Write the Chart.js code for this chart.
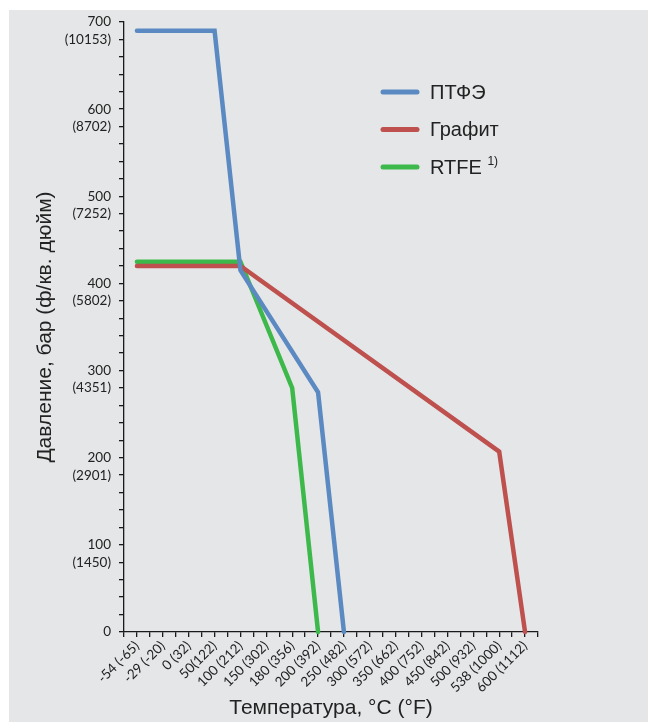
<!DOCTYPE html>
<html>
<head>
<meta charset="utf-8">
<style>
  html, body { margin: 0; padding: 0; background: #fff; }
  #wrap { width: 648px; height: 722px; }
</style>
<script src="https://cdn.jsdelivr.net/npm/chart.js@4.4.1/dist/chart.umd.min.js"></script>
</head>
<body>
<div id="wrap"><canvas id="chart" width="648" height="722"></canvas></div>
<script>
// temperature categories, °C (°F)
const categories = ['-54 (-65)', '-29 (-20)', '0 (32)', '50(122)', '100 (212)', '150 (302)', '180 (356)', '200 (392)',
  '250 (482)', '300 (572)', '350 (662)', '400 (752)', '450 (842)', '500 (932)', '538 (1000)', '600 (1112)'];

// pressure, bar (null = no point at that temperature)
const ptfe = [690, 690, 690, 690, 415, null, null, 275, 0, null, null, null, null, null, null, null];
const graphite = [420, 420, 420, 420, 420, null, null, null, null, null, null, null, null, null, 207, 0];
const rtfe = [425, 425, 425, 425, 425, null, 280, 0, null, null, null, null, null, null, null, null];

const seriesNames = ['ПТФЭ', 'Графит', 'RTFE'];
const seriesNotes = ['', '', '1)'];
const seriesColors = ['#5b89c2', '#be504e', '#3db94b'];

// y tick labels: bar and psi in brackets
const yTicksBar = [0, 100, 200, 300, 400, 500, 600, 700];
const yTicksPsi = ['', '1450', '2901', '4351', '5802', '7252', '8702', '10153'];

const toPoints = (arr) => arr.map((v, i) => ({ x: i, y: v })).filter((p) => p.y !== null);

const background = {
  id: 'background',
  beforeDraw(chart) {
    const { ctx, width, height } = chart;
    ctx.save();
    ctx.fillStyle = '#ffffff';
    ctx.fillRect(0, 0, width, height);
    ctx.fillStyle = '#e5e6e8';
    ctx.fillRect(9, 10, width - 9, height - 10);
    ctx.restore();
  }
};

const legendBox = {
  id: 'legendBox',
  afterDraw(chart) {
    const { ctx } = chart;
    ctx.save();
    chart.data.datasets.forEach((ds, i) => {
      const y = 92 + i * 37.5;
      ctx.strokeStyle = ds.borderColor;
      ctx.lineWidth = 5;
      ctx.lineCap = 'round';
      ctx.beginPath();
      ctx.moveTo(383, y);
      ctx.lineTo(417, y);
      ctx.stroke();
      ctx.fillStyle = '#222';
      ctx.font = '20px "Liberation Sans", Arial, sans-serif';
      ctx.textBaseline = 'middle';
      ctx.fillText(ds.label, 430, y + 1);
      if (seriesNotes[i]) {
        const w = ctx.measureText(ds.label + ' ').width;
        ctx.font = '12px "Liberation Sans", Arial, sans-serif';
        ctx.fillText(seriesNotes[i], 430 + w, y - 5);
      }
    });
    ctx.restore();
  }
};

new Chart(document.getElementById('chart'), {
  type: 'line',
  data: {
    datasets: [ptfe, graphite, rtfe].map((arr, i) => ({
      label: seriesNames[i],
      data: toPoints(arr),
      borderColor: seriesColors[i],
      backgroundColor: seriesColors[i],
      borderWidth: 4.5,
      borderCapStyle: 'round',
      pointRadius: 0,
      tension: 0,
      clip: false
    }))
  },
  options: {
    responsive: false,
    animation: false,
    devicePixelRatio: 1,
    layout: { padding: { top: 22, right: 110, bottom: 0, left: 0 } },
    plugins: { legend: { display: false }, tooltip: { enabled: false } },
    scales: {
      x: {
        type: 'linear',
        min: -0.5,
        max: categories.length - 0.5,
        afterFit: (scale) => { scale.height = 90; },
        afterBuildTicks: (scale) => {
          const t = [];
          for (let k = 0; k <= categories.length * 2; k++) t.push({ value: -0.5 + k / 2 });
          scale.ticks = t;
        },
        border: { display: true, color: '#1a1a1a', width: 1.3 },
        grid: { drawOnChartArea: false, drawTicks: true, tickLength: 5, color: '#1a1a1a', lineWidth: 1.3 },
        ticks: {
          autoSkip: false,
          maxRotation: 45,
          minRotation: 45,
          padding: 1,
          color: '#222',
          font: { family: 'Lato', size: 13.5 },
          callback: (v) => (Number.isInteger(v) ? categories[v] : '')
        },
        title: {
          display: true,
          text: 'Температура, °C (°F)',
          color: '#222',
          font: { family: '"Liberation Sans", Arial, sans-serif', size: 21 },
          padding: { top: 0, bottom: 1 }
        }
      },
      y: {
        min: 0,
        max: 700,
        afterFit: (scale) => { scale.width = 124; },
        border: { display: true, color: '#1a1a1a', width: 1.3 },
        grid: { drawOnChartArea: false, drawTicks: true, tickLength: 5, color: '#1a1a1a', lineWidth: 1.3 },
        ticks: {
          stepSize: 20,
          autoSkip: false,
          padding: 8,
          color: '#222',
          font: { family: 'Lato', size: 13.5 },
          callback: (v) => {
            const i = yTicksBar.indexOf(v);
            if (i >= 0) return String(v);
            const j = yTicksBar.indexOf(v + 20);
            if (j > 0) return '(' + yTicksPsi[j] + ')';
            return '';
          }
        },
        title: {
          display: true,
          text: 'Давление, бар (ф/кв. дюйм)',
          color: '#222',
          font: { family: '"Liberation Sans", Arial, sans-serif', size: 21 },
          padding: { top: 33, bottom: 0 }
        }
      }
    }
  },
  plugins: [background, legendBox]
});
</script>
</body>
</html>
